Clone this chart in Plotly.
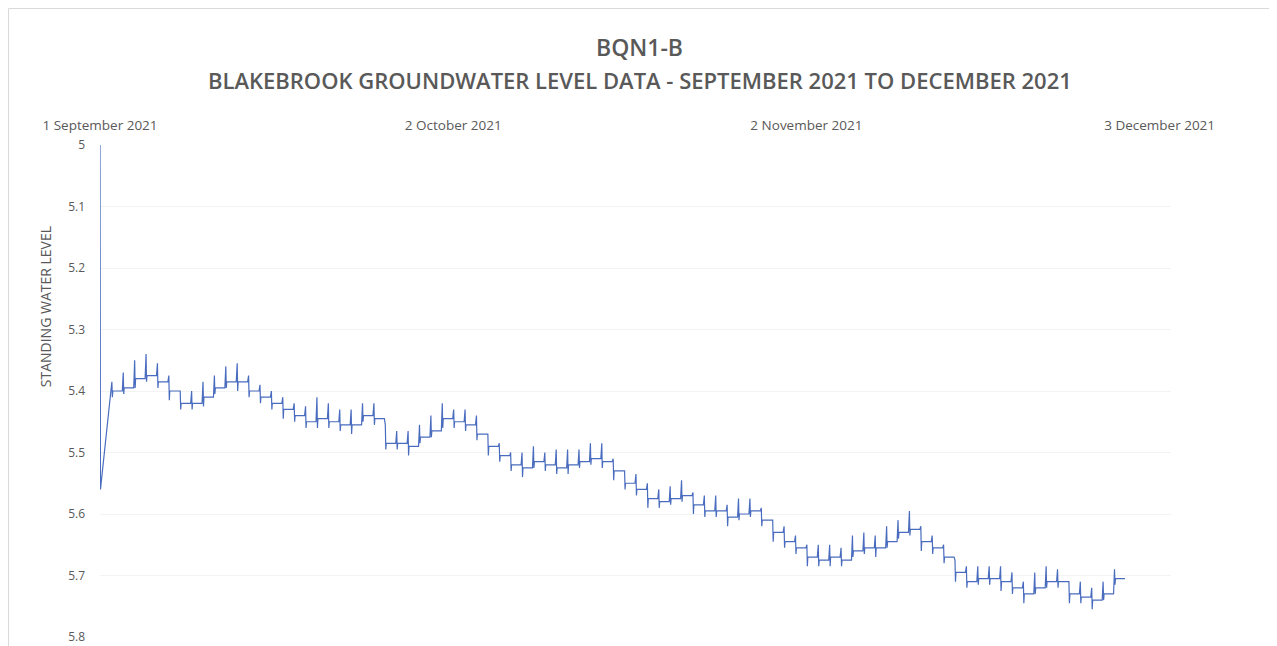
import pandas as pd
import plotly.graph_objects as go

# groundwater readings from 1 September 2021
start_date = "2021-09-01"
# first two logger readings (midnight, 1am on 1 September)
first_readings = [5.0, 5.56]
# one level per day from 2 September onwards
daily_level = [
    5.40, 5.395, 5.38, 5.375, 5.385, 5.40, 5.42, 5.42, 5.41,
    5.395, 5.385, 5.385, 5.40, 5.41, 5.42, 5.43, 5.44, 5.45, 5.445,
    5.45, 5.455, 5.455, 5.44, 5.445, 5.485, 5.485, 5.49, 5.475, 5.465,
    5.445, 5.45, 5.455, 5.47, 5.49, 5.505, 5.52, 5.525, 5.515, 5.52,
    5.525, 5.52, 5.515, 5.51, 5.515, 5.53, 5.55, 5.56, 5.575, 5.58,
    5.575, 5.57, 5.585, 5.595, 5.595, 5.605, 5.60, 5.595, 5.61, 5.63,
    5.645, 5.655, 5.67, 5.675, 5.67, 5.675, 5.66, 5.655, 5.655, 5.645,
    5.63, 5.625, 5.645, 5.655, 5.67, 5.695, 5.71, 5.705, 5.705, 5.71,
    5.72, 5.73, 5.72, 5.71, 5.71, 5.73, 5.735, 5.74, 5.73, 5.705,
]
# daily logger spikes: how far each reading jumps up / down from the level
spike_up = [
    0.015, 0.025, 0.03, 0.035, 0.03, 0.025, 0.02, 0.02, 0.025,
    0.02, 0.025, 0.03, 0.025, 0.02, 0.02, 0.02, 0.02, 0.025, 0.035,
    0.03, 0.025, 0.025, 0.02, 0.025, 0.03, 0.02, 0.025, 0.02, 0.025,
    0.025, 0.02, 0.025, 0.03, 0.02, 0.02, 0.02, 0.025, 0.025, 0.02,
    0.03, 0.025, 0.02, 0.025, 0.03, 0.02, 0.02, 0.025, 0.025, 0.02,
    0.02, 0.025, 0.02, 0.025, 0.025, 0.02, 0.025, 0.02, 0.02, 0.02,
    0.025, 0.02, 0.02, 0.025, 0.02, 0.02, 0.025, 0.025, 0.02, 0.025,
    0.02, 0.03, 0.025, 0.02, 0.02, 0.02, 0.025, 0.02, 0.02, 0.025,
    0.025, 0.02, 0.025, 0.025, 0.02, 0.02, 0.025, 0.02, 0.02, 0.015,
]
spike_down = [
    0.01, 0.01, 0.015, 0.01, 0.01, 0.015, 0.01, 0.01, 0.015,
    0.01, 0.01, 0.015, 0.01, 0.01, 0.01, 0.015, 0.01, 0.01, 0.015,
    0.01, 0.01, 0.015, 0.01, 0.01, 0.01, 0.01, 0.015, 0.01, 0.01,
    0.015, 0.01, 0.01, 0.01, 0.015, 0.01, 0.01, 0.015, 0.01, 0.01,
    0.01, 0.015, 0.01, 0.01, 0.01, 0.015, 0.01, 0.01, 0.015, 0.01,
    0.01, 0.01, 0.015, 0.01, 0.01, 0.015, 0.01, 0.01, 0.01, 0.015,
    0.01, 0.01, 0.015, 0.01, 0.015, 0.01, 0.01, 0.01, 0.015, 0.01,
    0.01, 0.01, 0.015, 0.01, 0.01, 0.015, 0.01, 0.01, 0.01, 0.015,
    0.01, 0.015, 0.01, 0.01, 0.01, 0.015, 0.01, 0.015, 0.01, 0.01,
]

tick_dates = ["2021-09-01", "2021-10-02", "2021-11-02", "2021-12-03"]
tick_labels = ["1 September 2021", "2 October 2021", "2 November 2021", "3 December 2021"]
level_ticks = [5.0, 5.1, 5.2, 5.3, 5.4, 5.5, 5.6, 5.7, 5.8]
level_labels = ["5", "5.1", "5.2", "5.3", "5.4", "5.5", "5.6", "5.7", "5.8"]

GREY = "#595959"
FONT = "Open Sans"

# expand the readings into hourly timestamps
t0 = pd.Timestamp(start_date)
hour = pd.Timedelta(hours=1)
times = [t0 + i * hour for i in range(len(first_readings))]
levels = list(first_readings)
for day, level in enumerate(daily_level, start=1):
    base = t0 + pd.Timedelta(days=day)
    times += [base + hour, base + 2 * hour, base + 3 * hour, base + 23 * hour]
    levels += [level - spike_up[day - 1], level + spike_down[day - 1], level, level]

fig = go.Figure()
fig.add_trace(go.Scatter(
    x=times,
    y=levels,
    mode='lines',
    line=dict(color='#4a6cbf', width=1.2),
    showlegend=False,
    hoverinfo='x+y'
))

fig.update_xaxes(
    side='top',
    type='date',
    range=[pd.Timestamp("2021-09-01"), pd.Timestamp("2021-12-04")],
    tickvals=[pd.Timestamp(d) for d in tick_dates],
    ticktext=tick_labels,
    showgrid=False,
    showline=False,
    zeroline=False,
    ticks='',
    automargin=False,
    ticklabelstandoff=11,
    tickfont=dict(family=FONT, size=13.5, color=GREY)
)
fig.update_yaxes(
    range=[5.8, 5.0],
    tickvals=level_ticks,
    ticktext=level_labels,
    showgrid=True,
    gridcolor='#f3f3f3',
    gridwidth=1,
    showline=False,
    zeroline=False,
    ticks='',
    automargin=False,
    ticklabelstandoff=14,
    tickfont=dict(family=FONT, size=12, color=GREY)
)

# the page body has an 8px margin, so the figure is 16px smaller than the window
fig.update_layout(
    width=1269,
    height=638,
    margin=dict(l=92, r=106, t=137, b=9),
    paper_bgcolor='white',
    plot_bgcolor='white',
    font=dict(family=FONT, color=GREY),
    annotations=[
        dict(text='BQN1-B', xref='paper', yref='paper',
             x=0.504, y=1.2, yanchor='middle', showarrow=False,
             font=dict(family=FONT, size=23, color=GREY, weight=600)),
        dict(text='BLAKEBROOK GROUNDWATER LEVEL DATA - SEPTEMBER 2021 TO DECEMBER 2021',
             xref='paper', yref='paper', x=0.504, y=1.132, yanchor='middle',
             showarrow=False, font=dict(family=FONT, size=22, color=GREY, weight=600)),
        dict(text='STANDING WATER LEVEL', xref='paper', yref='paper',
             x=-0.051, y=0.671, textangle=-90, showarrow=False,
             xanchor='center', yanchor='middle',
             font=dict(family=FONT, size=14, color=GREY)),
    ],
    shapes=[
        # chart-area border along the top and left edges
        dict(type='line', xref='paper', yref='paper',
             x0=-0.0854, x1=1.1, y0=1.2775, y1=1.2775,
             line=dict(color='#d9d9d9', width=1)),
        dict(type='line', xref='paper', yref='paper',
             x0=-0.0854, x1=-0.0854, y0=-0.1, y1=1.2775,
             line=dict(color='#d9d9d9', width=1)),
    ]
)

fig.write_html("out.html")
